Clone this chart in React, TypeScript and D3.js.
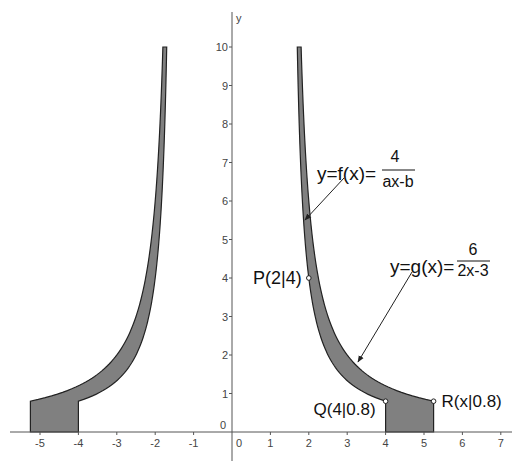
import React from "react";
import * as d3 from "d3";

// Function parameters: f(x)=4/(ax-b), g(x)=6/(2x-3)
const fNum = 4;
const gNum = 6;
const coefA = 2;
const coefB = 3;
const yTop = 10;
const yBase = 0.8;
const xTicks = [-5, -4, -3, -2, -1, 1, 2, 3, 4, 5, 6, 7];
const yTicks = [1, 2, 3, 4, 5, 6, 7, 8, 9, 10];
const points = [
  { name: "P(2|4)", x: 2, y: 4 },
  { name: "Q(4|0.8)", x: 4, y: 0.8 },
  { name: "R(x|0.8)", x: 5.25, y: 0.8 },
];

const W = 512;
const H = 461;

export default function App() {
  const x = d3.scaleLinear().domain([0, 7]).range([232, 500.8]);
  const y = d3.scaleLinear().domain([0, 10]).range([432, 47]);

  // inverse: x for given y on curve num/(a x - b)
  const xOf = (num: number, yy: number) => (num / yy + coefB) / coefA;
  const ys = d3.range(0, 201).map((i) => yTop - (i / 200) * (yTop - yBase));
  const fPts = ys.map((yy) => [xOf(fNum, yy), yy] as [number, number]);
  const gPts = ys.map((yy) => [xOf(gNum, yy), yy] as [number, number]).reverse();
  const qx = xOf(fNum, yBase);
  const rx = xOf(gNum, yBase);
  const shape: [number, number][] = [...fPts, [qx, 0], [rx, 0], ...gPts];
  const line = d3
    .line<[number, number]>()
    .x((d) => x(d[0]))
    .y((d) => y(d[1]));
  const lineMirror = d3
    .line<[number, number]>()
    .x((d) => x(-d[0]))
    .y((d) => y(d[1]));

  const font = "Arial, 'Liberation Sans', sans-serif";
  const axisColor = "#555";

  return (
    <svg
      width={W}
      height={H}
      style={{ position: "absolute", left: 0, top: 0, background: "#fff" }}
      fontFamily={font}
    >
      <defs>
        <marker id="arr" viewBox="0 0 10 10" refX="9" refY="5" markerWidth="7" markerHeight="7" orient="auto">
          <path d="M0,1 L10,5 L0,9 Z" fill="#222" />
        </marker>
      </defs>
      {/* shapes */}
      <path d={line(shape) + "Z"} fill="#808080" stroke="#222" strokeWidth={1.2} />
      <path d={lineMirror(shape) + "Z"} fill="#808080" stroke="#222" strokeWidth={1.2} />

      {/* axes */}
      <line x1={10} x2={W} y1={y(0)} y2={y(0)} stroke={axisColor} strokeWidth={1} />
      <line x1={x(0)} x2={x(0)} y1={12} y2={H} stroke={axisColor} strokeWidth={1} />
      {xTicks.map((t) => (
        <g key={"x" + t}>
          <line x1={x(t)} x2={x(t)} y1={y(0)} y2={y(0) + 3} stroke={axisColor} />
          <text x={x(t)} y={y(0) + 15} fontSize={11} fill="#444" textAnchor="middle">
            {t}
          </text>
        </g>
      ))}
      <text x={x(0) + 7} y={y(0) + 15} fontSize={11} fill="#444" textAnchor="middle">
        0
      </text>
      {yTicks.map((t) => (
        <g key={"y" + t}>
          <line x1={x(0) - 3} x2={x(0)} y1={y(t)} y2={y(t)} stroke={axisColor} />
          <text x={x(0) - 4} y={y(t) + 4} fontSize={11} fill="#444" textAnchor="end">
            {t}
          </text>
        </g>
      ))}
      <text x={x(0) - 6} y={y(0) - 3} fontSize={11} fill="#444" textAnchor="end">
        0
      </text>
      <text x={x(0) + 4} y={22} fontSize={11} fill="#444">
        y
      </text>

      {/* annotation arrows */}
      <line x1={344} y1={178} x2={305} y2={220} stroke="#222" strokeWidth={1} markerEnd="url(#arr)" />
      <line x1={412} y1={272} x2={358} y2={362} stroke="#222" strokeWidth={1} markerEnd="url(#arr)" />

      {/* f label */}
      <text x={317} y={180} fontSize={19} fill="#111">
        y=f(x)=
      </text>
      <text x={395} y={162} fontSize={16} fill="#111" textAnchor="middle">4</text>
      <line x1={382} x2={415} y1={170} y2={170} stroke="#111" strokeWidth={1} />
      <text x={398} y={187} fontSize={16} fill="#111" textAnchor="middle">ax-b</text>

      {/* g label */}
      <text x={390} y={273} fontSize={19} fill="#111">
        y=g(x)=
      </text>
      <text x={473} y={255} fontSize={16} fill="#111" textAnchor="middle">6</text>
      <line x1={457} x2={490} y1={261} y2={261} stroke="#111" strokeWidth={1} />
      <text x={473} y={276} fontSize={16} fill="#111" textAnchor="middle">2x-3</text>

      {/* points */}
      {points.map((p) => (
        <circle key={p.name} cx={x(p.x)} cy={y(p.y)} r={2.3} fill="#fff" stroke="#222" strokeWidth={1} />
      ))}
      <text x={x(2) - 7} y={y(4) + 6} fontSize={18} fill="#111" textAnchor="end">
        {points[0].name}
      </text>
      <text x={x(4) - 10} y={y(0.8) + 14} fontSize={17} fill="#111" textAnchor="end">
        {points[1].name}
      </text>
      <text x={x(5.25) + 8} y={y(0.8) + 6} fontSize={17} fill="#111">
        {points[2].name}
      </text>
    </svg>
  );
}
